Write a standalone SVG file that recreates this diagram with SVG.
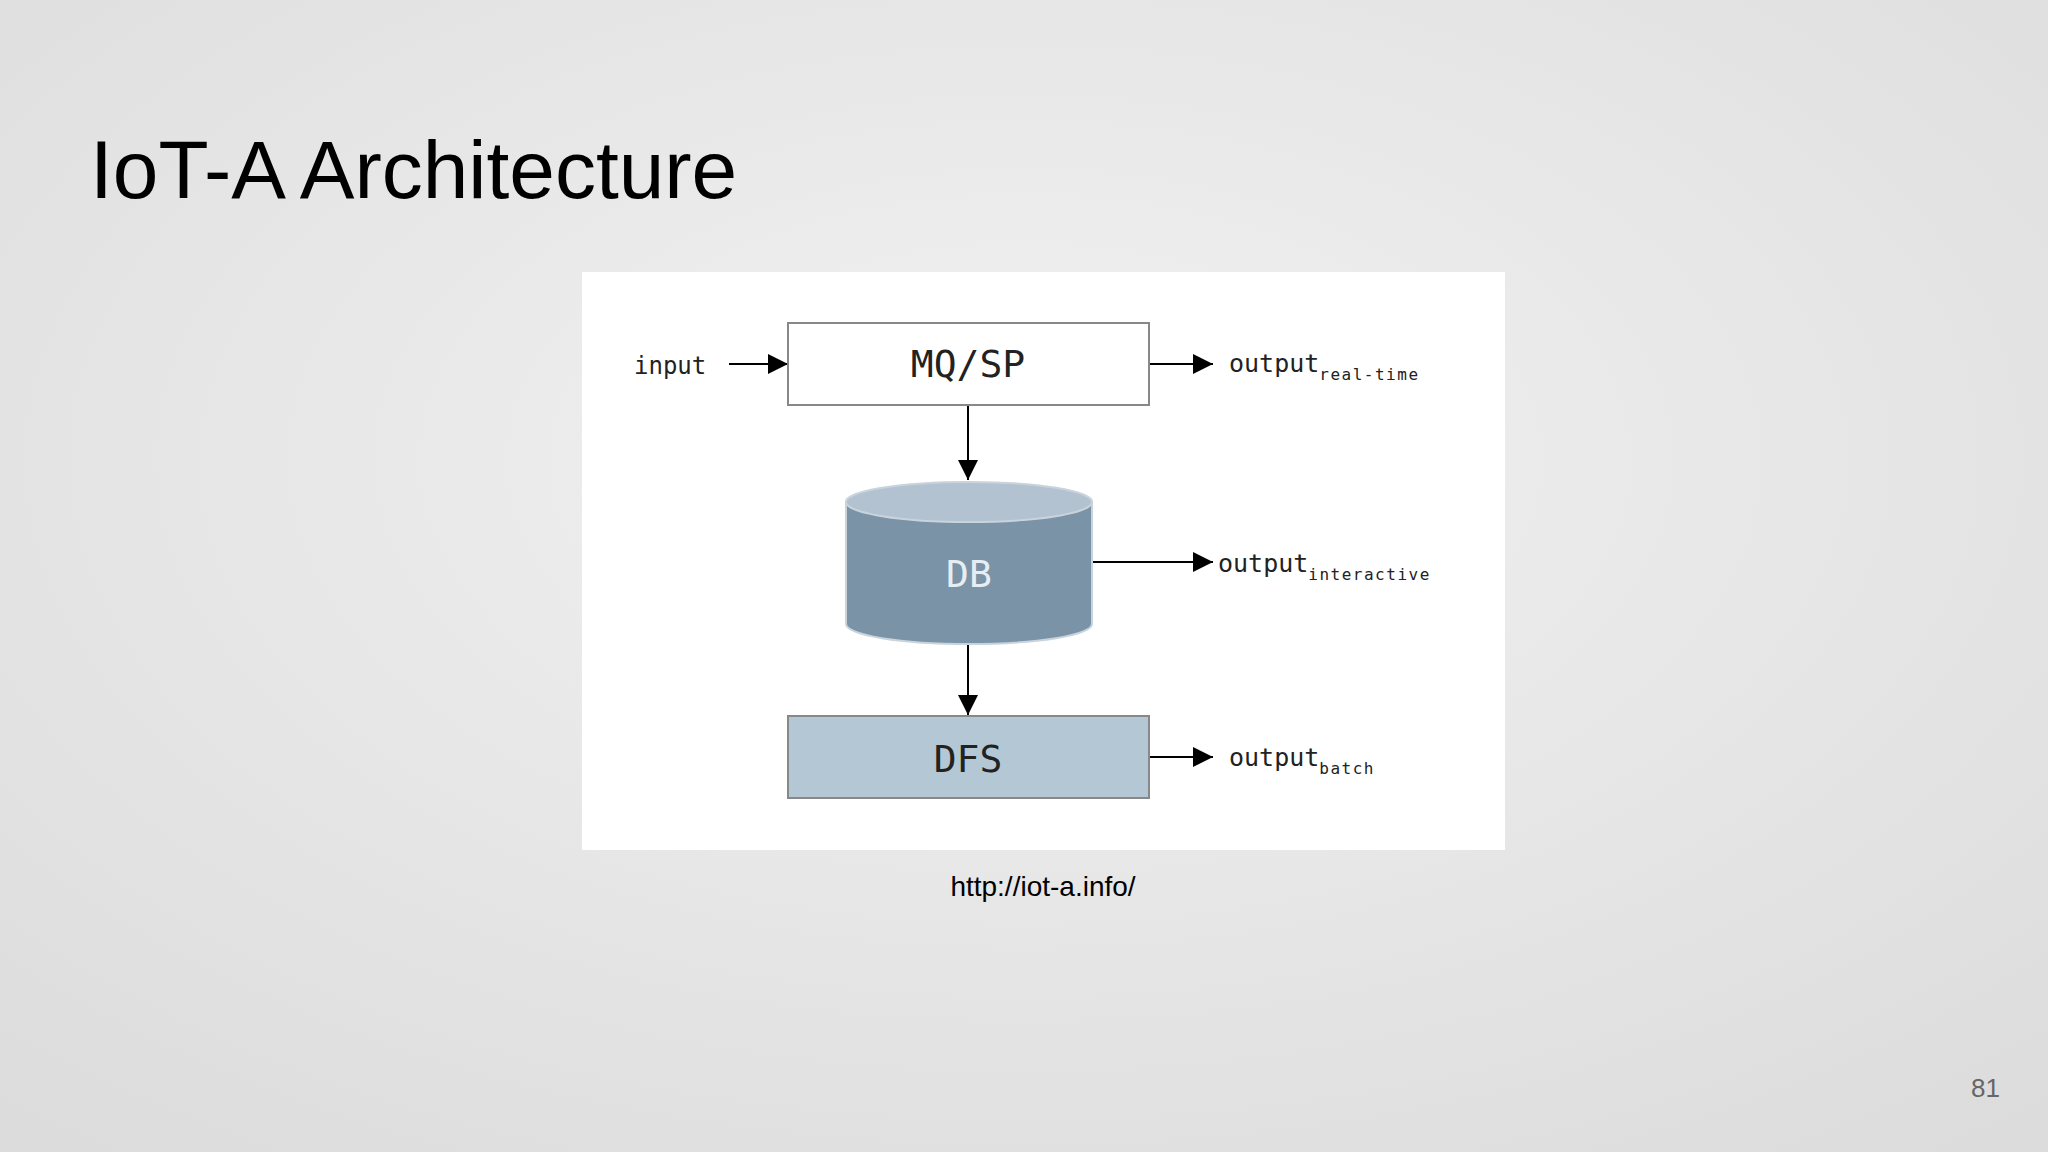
<svg xmlns="http://www.w3.org/2000/svg" width="2048" height="1152" viewBox="0 0 2048 1152">
<defs>
<radialGradient id="bg" cx="50%" cy="40%" r="75%"><stop offset="0" stop-color="#f2f2f2"/><stop offset="1" stop-color="#dcdcdc"/></radialGradient>
<marker id="ah2" viewBox="0 0 10 10" refX="10" refY="5" markerWidth="22" markerHeight="20" orient="auto" markerUnits="userSpaceOnUse"><path d="M0,0 L10,5 L0,10 Z" fill="#000"/></marker>
<style>
.m{font-family:"DejaVu Sans Mono",monospace;fill:#222}
.s{font-size:16px;letter-spacing:1.5px}
.c{stroke:#000;stroke-width:2;fill:none;marker-end:url(#ah2)}
</style>
</defs>
<rect width="2048" height="1152" fill="url(#bg)"/>
<text x="90" y="198" font-family="Liberation Sans,Arial,sans-serif" font-size="82" fill="#000">IoT-A Architecture</text>
<rect x="582" y="272" width="923" height="578" fill="#fff"/>
<g id="connectors">
<line class="c" x1="729" y1="364" x2="788" y2="364"/>
<line class="c" x1="1149" y1="364" x2="1213" y2="364"/>
<line class="c" x1="968" y1="405" x2="968" y2="480"/>
<line class="c" x1="1092" y1="562" x2="1213" y2="562"/>
<line class="c" x1="968" y1="642" x2="968" y2="715"/>
<line class="c" x1="1149" y1="757" x2="1213" y2="757"/>
</g>
<g id="input"><text class="m" x="634" y="374" font-size="24">input</text></g>
<g id="mqsp"><rect x="788" y="323" width="361" height="82" fill="#fff" stroke="#888" stroke-width="2"/><text class="m" x="968" y="377" font-size="38" text-anchor="middle">MQ/SP</text></g>
<g id="db">
<path d="M846,502 L846,624 A123,20 0 0 0 1092,624 L1092,502 Z" fill="#7a93a6" stroke="#c8d3dc" stroke-width="2"/>
<ellipse cx="969" cy="502" rx="123" ry="20" fill="#b3c2d0" stroke="#c8d3dc" stroke-width="2"/>
<text x="969" y="587" font-family="DejaVu Sans Mono,monospace" font-size="38" fill="#e6eef4" text-anchor="middle">DB</text>
</g>
<g id="dfs"><rect x="788" y="716" width="361" height="82" fill="#b3c8d4" stroke="#888" stroke-width="2"/><text class="m" x="968" y="772" font-size="38" text-anchor="middle">DFS</text></g>
<g id="out1"><text class="m" x="1229" y="372" font-size="25">output<tspan class="s" dy="8">real-time</tspan></text></g>
<g id="out2"><text class="m" x="1218" y="572" font-size="25">output<tspan class="s" dy="8">interactive</tspan></text></g>
<g id="out3"><text class="m" x="1229" y="766" font-size="25">output<tspan class="s" dy="8">batch</tspan></text></g>
<text x="1043" y="896" font-family="Liberation Sans,Arial,sans-serif" font-size="28" fill="#000" text-anchor="middle">http://iot-a.info/</text>
<text x="2000" y="1097" font-family="Liberation Sans,Arial,sans-serif" font-size="26" fill="#666" text-anchor="end">81</text>
</svg>
